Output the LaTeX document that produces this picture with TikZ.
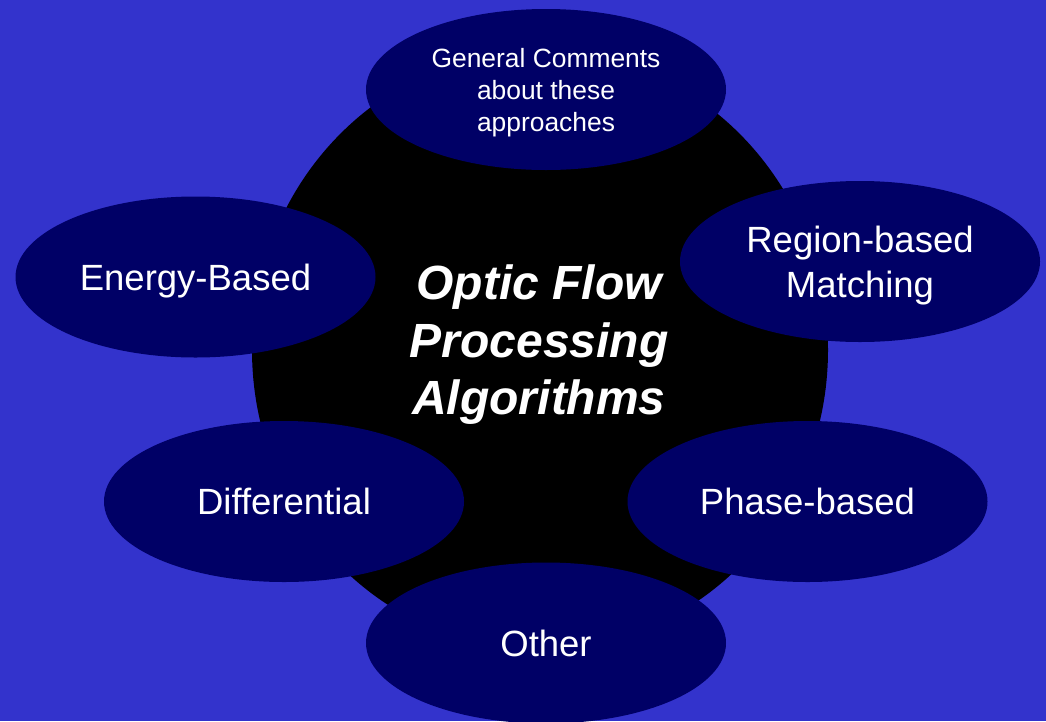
\documentclass[tikz,border=0pt]{standalone}
\usepackage{fontspec}
\setmainfont{Liberation Sans}[Ligatures=NoCommon]
\usetikzlibrary{shapes.geometric}
\definecolor{bgblue}{RGB}{51,51,204}
\definecolor{navy}{RGB}{0,0,102}
\tikzset{
  petal/.style={ellipse, fill=navy, text=white, inner sep=0pt,
    minimum width=360pt, minimum height=161pt, align=center, text depth=0pt,
    font=\fontsize{36.5}{45}\selectfont},
  smallpetal/.style={petal, font=\fontsize{26.4}{32}\selectfont},
  hubshape/.style={ellipse, fill=black, inner sep=0pt,
    minimum width=576pt, minimum height=600pt},
  titletext/.style={text=white, align=center, text depth=0pt, inner sep=0pt,
    font=\fontsize{48}{57.5}\selectfont\bfseries\itshape}
}
\begin{document}
\begin{tikzpicture}[x=1pt,y=-1pt]
\useasboundingbox (0,0) rectangle (1046,721);
\fill[bgblue] (0,0) rectangle (1046,721);
\node[hubshape] (hub) at (540,350) {};
\node[smallpetal] (general) at (546,89.5) {General Comments\\about these\\approaches};
\node[petal] (energy) at (195.5,277) {Energy-Based};
\node[petal] (region) at (860,261.5) {Region-based\\Matching};
\node[petal] (differential) at (284,501.5) {Differential};
\node[petal] (phase) at (807.5,501.5) {Phase-based};
\node[petal] (other) at (546,643) {Other};
\node[titletext] (title) at (539,340) {Optic Flow\\Processing\\Algorithms};
\end{tikzpicture}
\end{document}
